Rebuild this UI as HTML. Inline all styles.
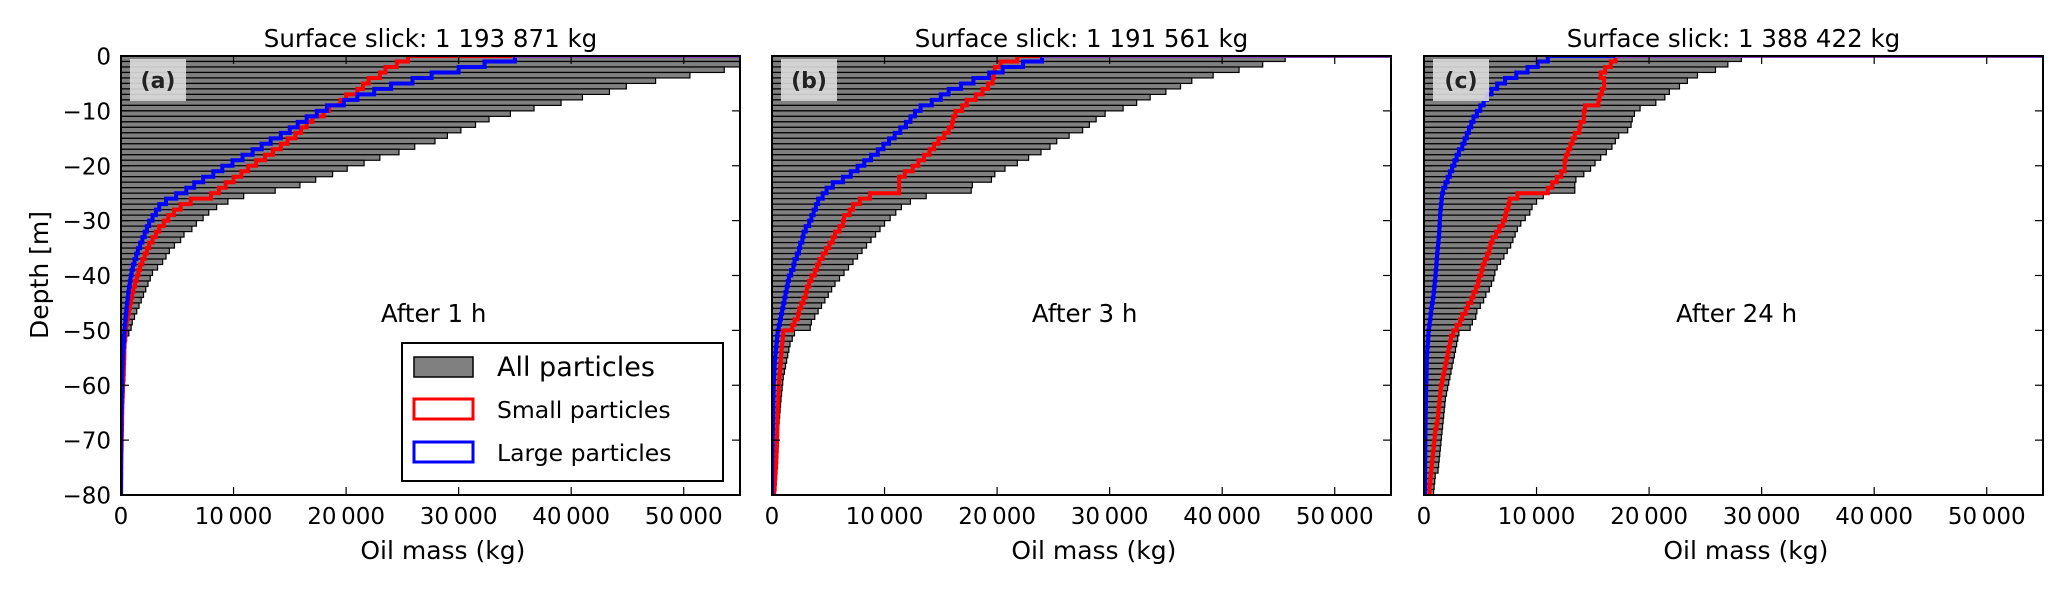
<!DOCTYPE html>
<html><head><meta charset="utf-8"><style>
html,body{margin:0;padding:0;background:#fff;}
svg{display:block;font-family:"DejaVu Sans","Liberation Sans",sans-serif;}
</style></head><body>
<svg id="fig" width="2067" height="591" viewBox="0 0 2067 591" xmlns="http://www.w3.org/2000/svg"></svg>
<script>
const depthBins = Array.from({length:80},(_,i)=>i);
const xTicks = [0,10000,20000,30000,40000,50000];
const xTickLabels = ["0","10\u2009000","20\u2009000","30\u2009000","40\u2009000","50\u2009000"];
const yTicks = [0,-10,-20,-30,-40,-50,-60,-70,-80];
const yTickLabels = ["0","\u221210","\u221220","\u221230","\u221240","\u221250","\u221260","\u221270","\u221280"];
const panelLetters = ["(a)","(b)","(c)"];
const panelTitles = ["Surface slick: 1 193 871 kg","Surface slick: 1 191 561 kg","Surface slick: 1 388 422 kg"];
const panelTimes = ["After 1 h","After 3 h","After 24 h"];

const allA = [70000,55000,53600,50550,47500,44900,43400,41000,39100,36700,34600,32700,31500,30200,29000,27900,26100,24700,23000,21600,20100,18800,17300,15900,13700,10900,9500,8500,7800,7300,6700,6300,5600,5300,4750,4300,4000,3700,3250,2800,2600,2400,2200,2000,1800,1600,1400,1200,1000,900,700,500,400,300,250,200,150,120,100,80,70,60,50,40,30,30,20,20,20,10,10,10,10,10,5,5,5,5,5,5];
const smallA = [25500,24500,23500,23000,22000,21500,21000,20000,19500,18500,18000,17000,16500,16000,15500,14800,14200,13500,12800,12000,11300,10700,10000,9300,8700,8000,6200,5300,4700,4200,3800,3400,3100,2800,2500,2300,2100,1900,1700,1550,1400,1250,1100,1000,900,800,700,600,500,450,400,350,320,300,300,280,260,250,230,200,180,160,140,120,110,100,100,90,80,70,60,50,40,30,30,20,20,10,10,10];
const largeA = [35000,32300,30000,27600,25900,24000,22500,21000,19800,18300,17400,16500,15700,15000,14200,13300,12500,11700,10800,9900,9000,8200,7300,6500,5800,4900,4000,3400,3100,2800,2500,2300,2100,1900,1700,1500,1350,1200,1050,950,850,780,700,640,580,520,470,420,380,340,300,270,240,210,180,160,140,120,110,100,90,80,70,60,50,40,40,30,30,20,20,20,10,10,10,10,5,5,5,5];

const allB = [45600,43600,41500,39200,37300,36300,35000,33600,32400,31200,29600,28800,28200,27600,26400,25300,24700,23900,22800,21800,20700,19800,19500,17800,17700,13700,12300,11500,11000,10500,10000,9600,9200,8800,8400,8000,7600,7200,6800,6400,6000,5600,5300,5000,4700,4400,4100,3800,3500,3400,2000,1800,1600,1500,1400,1300,1200,1100,1000,950,900,850,800,760,720,680,640,600,570,540,510,480,450,420,400,380,360,340,320,300];
const smallB = [21800,20300,19800,19700,19600,19200,18700,18100,17300,16900,16300,16100,16000,15700,15300,14800,14400,14000,13500,13000,12500,11800,11300,11300,11300,8700,7800,7200,6900,6400,6300,6000,5600,5400,5100,4800,4500,4200,4000,3800,3500,3300,3100,3000,2800,2600,2400,2300,2000,1800,1000,950,900,860,820,780,740,700,660,630,600,580,560,540,520,500,490,480,470,460,450,430,410,390,360,330,300,270,240,200];
const largeB = [24000,22300,20500,19300,17900,16800,15700,15000,14200,13200,12700,12300,11900,11400,10900,10400,9900,9400,8800,8200,7600,7000,6300,5400,4850,4500,4100,3900,3700,3500,3300,3000,2800,2700,2500,2400,2200,2000,1900,1700,1500,1400,1300,1200,1100,1000,900,800,700,600,500,450,400,350,300,260,230,200,180,160,150,140,130,120,110,100,90,80,70,60,50,40,30,20,20,10,10,10,5,5];

const allC = [28200,27000,25900,24300,23400,22700,21800,21400,20600,19200,18700,18500,18400,18100,17300,17000,16700,16200,15700,15200,14800,14200,13500,13400,13400,10600,10000,9600,9400,9000,8600,8300,8100,7900,7700,7400,7100,6800,6500,6300,6200,6000,5800,5500,5300,5000,4700,4600,4300,4100,3100,3000,2900,2800,2700,2600,2500,2400,2300,2200,2100,2000,1900,1850,1800,1750,1700,1650,1600,1550,1500,1450,1400,1350,1300,1250,1000,950,900,850];
const smallC = [17000,16600,16100,15700,16000,16000,15800,15600,15500,14300,14200,14200,13900,13800,13400,13200,13000,12800,12600,12500,12500,12200,11800,11400,11000,8300,7600,7500,7300,7200,7000,6700,6400,6100,5900,5800,5600,5400,5200,5100,4900,4800,4600,4400,4200,3900,3700,3400,3200,2900,2600,2400,2300,2200,2100,2000,1900,1800,1700,1600,1500,1450,1400,1350,1300,1250,1200,1100,1000,950,900,850,800,750,700,650,600,550,500,500];
const largeC = [11000,10100,9200,8200,7200,6500,6000,5600,5300,5000,4700,4400,4200,4000,3800,3600,3400,3100,2900,2700,2500,2300,2100,1900,1700,1600,1550,1500,1450,1420,1400,1370,1340,1300,1250,1200,1160,1120,1080,1040,1000,950,900,850,780,700,640,580,520,460,400,370,340,300,270,250,240,230,220,210,200,190,180,170,160,150,145,140,135,130,125,120,115,110,105,100,100,100,100,100];

const allSeries = [allA, allB, allC];
const smallSeries = [smallA, smallB, smallC];
const largeSeries = [largeA, largeB, largeC];

const NS = "http://www.w3.org/2000/svg";
const svg = document.getElementById("fig");
function mk(tag, attrs, parent){
  const e = document.createElementNS(NS, tag);
  for (const k in attrs) e.setAttribute(k, attrs[k]);
  (parent||svg).appendChild(e);
  return e;
}
const panelLefts = [121, 772, 1424];
const PW = 619, PT = 56, PB = 495;
const XMAX = 55000, YMIN = -80, YMAX = 0;

panelLefts.forEach((L, p) => {
  const g = mk("g", {});
  
  
  const xs = v => L + (Math.min(v, XMAX*1.2) / XMAX) * PW;
  const ys = d => PT + (YMAX - d) / (YMAX - YMIN) * (PB - PT);
  const clipId = "clip" + p;
  const cp = mk("clipPath", {id: clipId}, g);
  mk("rect", {x: L, y: PT, width: PW, height: PB - PT}, cp);
  const plot = mk("g", {"clip-path": "url(#" + clipId + ")"}, g);

  const bars = allSeries[p];
  depthBins.forEach(i => {
    const r = mk("rect", {x: xs(0), y: ys(-i), width: Math.max(0, xs(bars[i]) - xs(0)), height: ys(-(i+1)) - ys(-i), fill: "#808080", stroke: "#000", "stroke-width": 1.2}, plot);
    
    
  });

  function stepPath(vals){
    let d = "M" + xs(XMAX*1.2) + "," + ys(0) + " L" + xs(vals[0]) + "," + ys(0);
    depthBins.forEach(i => {
      d += " L" + xs(vals[i]) + "," + ys(-i) + " L" + xs(vals[i]) + "," + ys(-(i+1));
      if (i < 79) d += " L" + xs(vals[i+1]) + "," + ys(-(i+1));
    });
    return d;
  }
  const sl = mk("path", {d: stepPath(smallSeries[p]), fill: "none", stroke: "#ff0000", "stroke-width": 4}, plot);
  
  
  const ll = mk("path", {d: stepPath(largeSeries[p]), fill: "none", stroke: "#0000ff", "stroke-width": 4}, plot);
  
  
  const sf = mk("line", {x1: xs(Math.max(smallSeries[p][0], largeSeries[p][0])), y1: ys(0)+1, x2: L+PW, y2: ys(0)+1, stroke: "#8040c0", "stroke-width": 2}, plot);
  
  

  const fr = mk("rect", {x: L, y: PT, width: PW, height: PB - PT, fill: "none", stroke: "#000", "stroke-width": 2}, g);
  
  

  xTicks.forEach((t, k) => {
    const x = xs(t);
    mk("line", {x1: x, y1: PB, x2: x, y2: PB - 8, stroke: "#000", "stroke-width": 1.2}, g);
    mk("line", {x1: x, y1: PT, x2: x, y2: PT + 8, stroke: "#000", "stroke-width": 1.2}, g);
    const tx = mk("text", {x: x, y: 524, "font-size": 23, "text-anchor": "middle", fill: "#000"}, g);
    tx.textContent = xTickLabels[k];
    
    
  });
  yTicks.forEach((t, k) => {
    const y = ys(t);
    mk("line", {x1: L, y1: y, x2: L + 8, y2: y, stroke: "#000", "stroke-width": 1.2}, g);
    mk("line", {x1: L + PW, y1: y, x2: L + PW - 8, y2: y, stroke: "#000", "stroke-width": 1.2}, g);
    if (p === 0) {
      const tx = mk("text", {x: 111, y: y + 8.5, "font-size": 23, "text-anchor": "end", fill: "#000"}, g);
      tx.textContent = yTickLabels[k];
      
      
    }
  });

  const lb = mk("rect", {x: L + 9, y: PT + 3, width: 56, height: 42, fill: "#dcdcdc", opacity: 0.9}, g);
  
  
  const lt = mk("text", {x: L + 37, y: PT + 32, "font-size": 22, "font-weight": "bold", "text-anchor": "middle", fill: "#222"}, g);
  lt.textContent = panelLetters[p];
  
  

  const tt = mk("text", {x: L + PW/2, y: 47, "font-size": 24.5, "text-anchor": "middle", fill: "#000"}, g);
  tt.textContent = panelTitles[p];
  
  

  const at = mk("text", {x: L + PW*0.505, y: 322, "font-size": 24.5, "text-anchor": "middle", fill: "#000"}, g);
  at.textContent = panelTimes[p];
  
  

  const xl = mk("text", {x: L + PW*0.52, y: 559, "font-size": 25, "text-anchor": "middle", fill: "#000"}, g);
  xl.textContent = "Oil mass (kg)";
  
  
});

const yl = mk("text", {x: 48, y: 275, "font-size": 25, "text-anchor": "middle", fill: "#000", transform: "rotate(-90 48 275)"});
yl.textContent = "Depth [m]";



const lg = mk("g", {});


mk("rect", {x: 402, y: 343, width: 321, height: 138, fill: "#fff", stroke: "#000", "stroke-width": 2}, lg);
const legItems = [
  {label: "All particles", fill: "#808080", stroke: "#000", size: 27, y: 357},
  {label: "Small particles", fill: "#fff", stroke: "#ff0000", size: 23.5, y: 399},
  {label: "Large particles", fill: "#fff", stroke: "#0000ff", size: 23.5, y: 442}
];
legItems.forEach(it => {
  const e = mk("g", {}, lg);
  
  
  mk("rect", {x: 414, y: it.y, width: 59, height: 20, fill: it.fill, stroke: it.stroke, "stroke-width": it.stroke === "#000" ? 1.5 : 3}, e);
  const t = mk("text", {x: 497, y: it.y + 19, "font-size": it.size, fill: "#000"}, e);
  t.textContent = it.label;
});
</script>
</body></html>
